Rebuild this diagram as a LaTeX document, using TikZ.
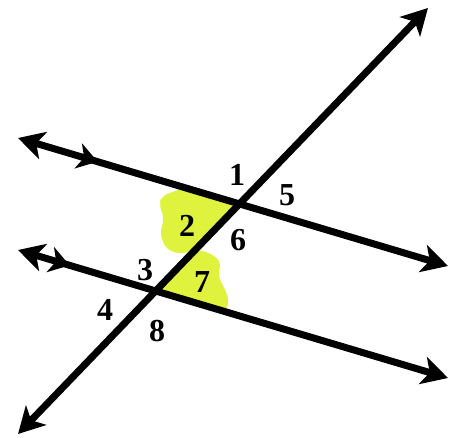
\documentclass[tikz,border=0pt]{standalone}
\usepackage{fontspec}
\setmainfont{Liberation Serif}
\usetikzlibrary{arrows.meta,decorations.markings}
\definecolor{hl}{RGB}{222,242,62}
\begin{document}
\begin{tikzpicture}[x=1pt,y=-1pt,
  bigline/.style={line width=7pt,{Stealth[length=26pt,width=28pt,inset=7pt]}-{Stealth[length=26pt,width=28pt,inset=7pt]}},
  tick/.style={postaction={decorate,decoration={markings,mark=at position #1 with {\arrow{Stealth[length=20pt,width=26pt,inset=6pt]}}}}},
  lbl/.style={font=\fontsize{32}{32}\selectfont\bfseries,inner sep=0pt}]
\useasboundingbox (0,0) rectangle (456,438);
\fill[white] (0,0) rectangle (456,438);
% highlights
\fill[hl,rounded corners=6pt] (162,196) -- (178,190) -- (190,186) -- (238,200) -- (196,250)
  -- (180,254) -- (166,249) -- (160,234) -- (164,218) -- (159,204) -- cycle;
\fill[hl,rounded corners=6pt] (196,249) -- (212,254) -- (221,262) -- (218,276) -- (225,289)
  -- (229,300) -- (226,312) -- (155,292) -- cycle;
% lines
\coordinate (TL) at (18,138); \coordinate (TR) at (448,266);
\coordinate (BL) at (18,250); \coordinate (BR) at (448,378);
\coordinate (XB) at (18,434); \coordinate (XT) at (428,8);
\draw[bigline,tick=0.185] (TL) -- (TR);
\draw[bigline,tick=0.12] (BL) -- (BR);
\draw[bigline] (XB) -- (XT);
% labels
\node[lbl] (n1) at (237,175) {1};
\node[lbl] (n5) at (287,195) {5};
\node[lbl] (n2) at (187,226) {2};
\node[lbl] (n6) at (238,240) {6};
\node[lbl] (n3) at (145,270) {3};
\node[lbl] (n7) at (202,282) {7};
\node[lbl] (n4) at (105,310) {4};
\node[lbl] (n8) at (157,331) {8};
\end{tikzpicture}
\end{document}
